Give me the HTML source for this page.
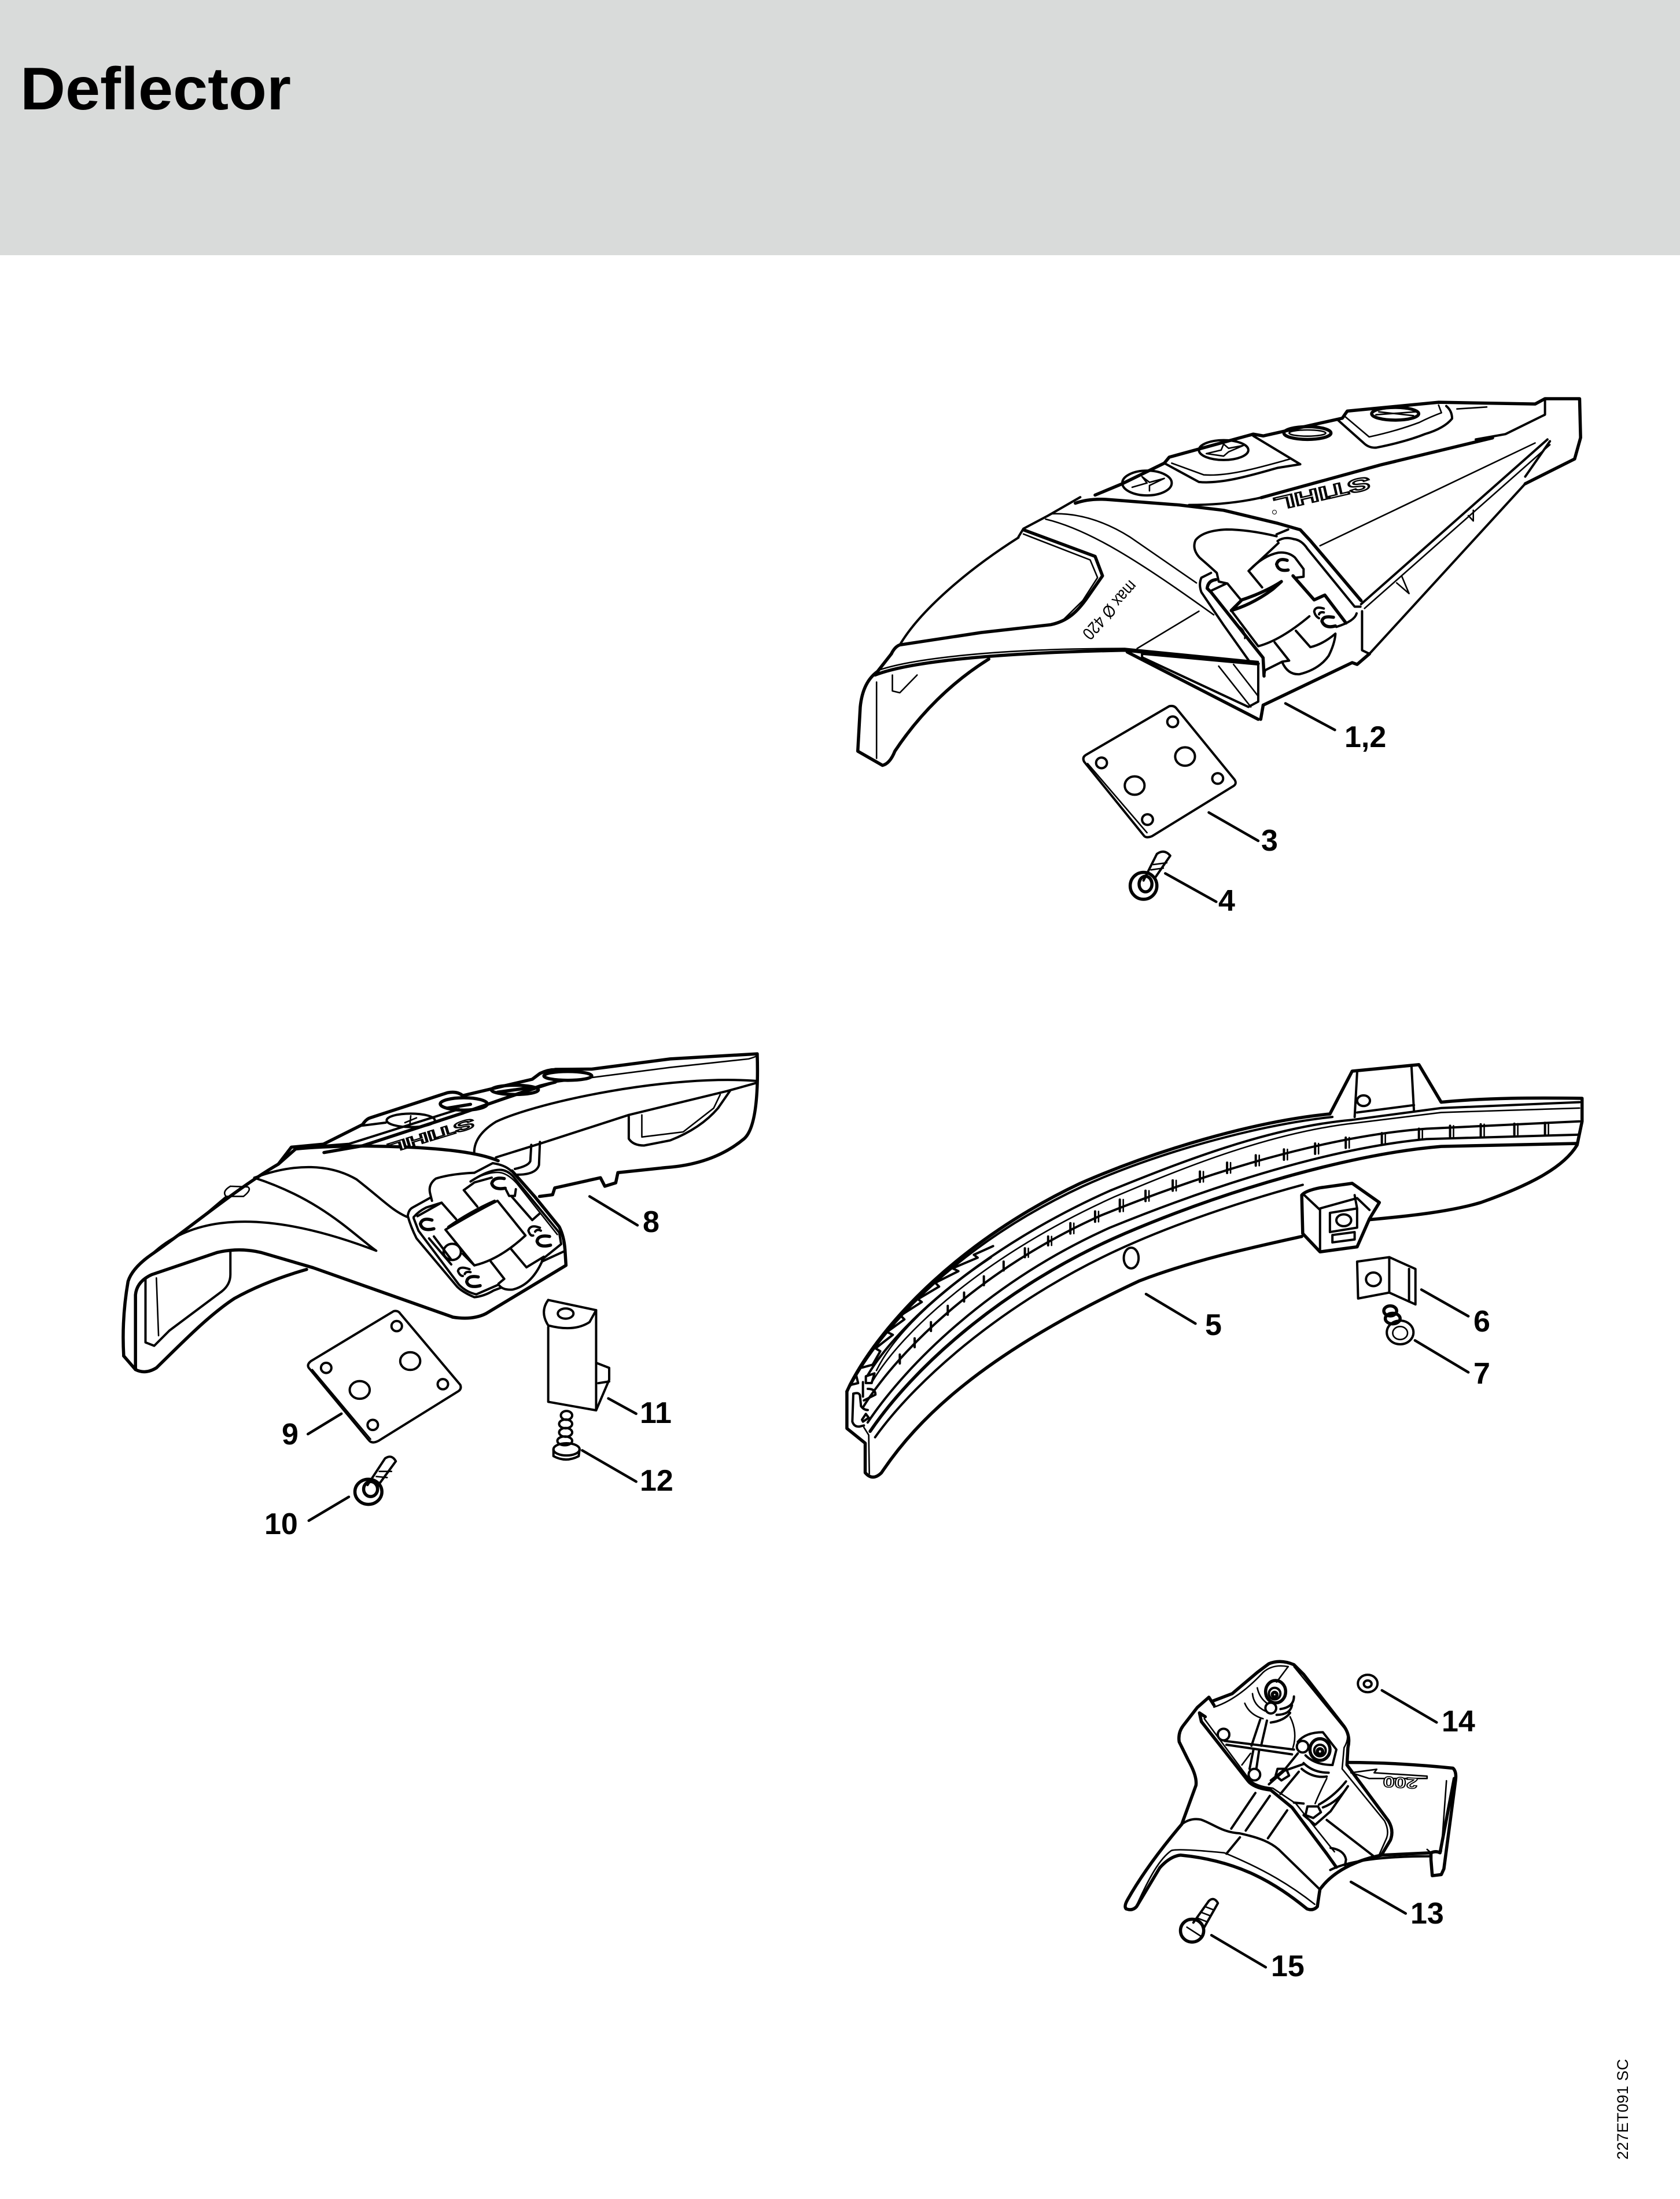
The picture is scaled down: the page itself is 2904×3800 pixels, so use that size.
<!DOCTYPE html>
<html><head><meta charset="utf-8"><title>Deflector</title>
<style>
html,body{margin:0;padding:0;background:#fff}
svg{display:block}
path,ellipse,circle{fill:none;stroke:#000;vector-effect:non-scaling-stroke;stroke-linecap:round;stroke-linejoin:round}
.k{stroke-width:5.5}
.m{stroke-width:4}
.t{stroke-width:2.6}
.l{stroke-width:4.5}
.lb{font:bold 52px "Liberation Sans",sans-serif;fill:#000}
</style></head><body>
<svg width="2904" height="3800" viewBox="0 0 2904 3800" xmlns="http://www.w3.org/2000/svg">
<rect width="2904" height="3800" fill="#fff"/>
<rect width="2904" height="441" fill="#d9dbda"/>
<text x="35" y="189" font-family="Liberation Sans,sans-serif" font-weight="bold" font-size="104" textLength="468" lengthAdjust="spacingAndGlyphs">Deflector</text>

<!-- PART A -->
<g transform="translate(1440,640) scale(.8546,.6122)">
<path class="k" d="M118 800 Q125 780 135 775 L300 740 L440 718 C475 708 495 680 515 640 L545 580 L530 525 L385 450"/>
<path class="m" d="M135 775 C175 680 270 565 375 472"/>
<path class="t" d="M385 462 L520 535 L535 585 L505 650 L465 705"/>
<path class="m" d="M375 470 L385 447 L435 410 L500 358"/>
<path class="k" d="M490 375 Q520 360 560 365 L700 380 L790 395 L900 432 L945 450 L965 480 L1068 650"/>
<path class="t" d="M440 405 Q520 400 600 470 L735 600"/>
<path class="t" d="M430 420 C520 450 620 540 770 690"/>
<path class="k" d="M530 352 L585 320 L670 262 L680 245 L850 180 L870 185 L1030 135 L1040 115 L1225 90 L1420 95 L1440 80 L1510 80 L1512 190 L1500 250 L1400 320"/>
<path class="m" d="M670 262 L740 315 C790 322 860 290 900 275 L945 265 L850 185"/>
<path class="t" d="M685 262 L750 295 C800 300 860 275 925 250"/>
<path class="m" d="M1440 80 L1440 125 L1360 180 L1300 195"/>
<ellipse class="m" cx="635" cy="318" rx="50" ry="35"/>
<path class="t" d="M605 330 L635 318 L625 300 L640 316 L670 305 L640 325 L640 340"/>
<ellipse class="m" cx="790" cy="225" rx="50" ry="28"/>
<path class="t" d="M755 235 L785 225 L790 208 L800 220 L830 212 L800 230 L790 242Z"/>
<path class="m" d="M720 380 Q800 380 866 359"/>
<path class="t" d="M985 495 L1420 205"/>
<path class="m" d="M1068 660 L1445 195"/>
<path class="t" d="M1075 672 L1450 210"/>
<path class="m" d="M1070 680 L1070 790 L1085 800 L1400 320"/>
<path class="m" d="M1450 200 L1400 300"/>
<path class="t" d="M1140 600 L1165 630 L1150 580 M1285 410 L1295 425 L1295 395"/>
<path class="k" d="M870 945 L1050 825 L1060 830 L1085 800"/>
<path class="k" d="M865 985 L870 945"/>
<path class="k" d="M595 795 L860 985"/>
<path class="m" d="M625 800 L860 830 L860 935 L840 950 L625 810Z"/>
<path class="t" d="M780 835 L845 950 M810 830 L860 920"/>
<path class="k" d="M85 860 C130 835 250 800 590 790 L860 828"/>
<path class="t" d="M95 845 C150 820 300 785 590 785 L860 822"/>
<path class="t" d="M120 860 L120 905 L135 910 L170 860"/>
<path class="k" d="M118 800 L90 850 Q60 880 55 950 L50 1075 L100 1115 Q115 1110 125 1075 C175 970 240 880 315 815"/>
<path class="t" d="M88 880 L88 1095"/>
<path class="t" d="M615 785 L740 680"/>
<!-- plate 3 -->
<path class="m" d="M680 948 Q690 945 695 955 L812 1155 Q818 1168 808 1175 L645 1315 Q632 1322 628 1312 L508 1105 Q503 1092 512 1085Z"/>
<path class="t" d="M515 1110 L635 1305"/>
<ellipse class="m" cx="687" cy="992" rx="11" ry="15"/>
<ellipse class="m" cx="712" cy="1090" rx="20" ry="26"/>
<ellipse class="m" cx="610" cy="1172" rx="20" ry="26"/>
<ellipse class="m" cx="543" cy="1108" rx="11" ry="15"/>
<ellipse class="m" cx="778" cy="1152" rx="11" ry="15"/>
<ellipse class="m" cx="636" cy="1268" rx="11" ry="15"/>
<!-- screw 4 -->
<ellipse class="k" cx="628" cy="1455" rx="27" ry="38"/>
<ellipse class="k" cx="632" cy="1450" rx="13" ry="22"/>
<path class="m" d="M628 1440 L655 1365 Q670 1350 682 1370 L650 1435"/>
<path class="t" d="M648 1395 L675 1390 M643 1410 L668 1405"/>
<path class="l" d="M915 940 L1015 1015 M760 1248 L860 1328 M672 1420 L775 1500"/>
</g>
<!-- A top detail -->
<g transform="translate(2180,660) scale(.33333)">
<path class="m" d="M395 195 L530 315 Q560 345 600 340 Q750 310 850 270 Q950 240 990 190 Q990 150 960 125"/>
<path class="t" d="M430 175 L560 285 Q700 255 820 210 Q880 180 935 160 L920 120"/>
<ellipse class="k" cx="240" cy="265" rx="122" ry="33"/>
<ellipse class="t" cx="240" cy="265" rx="95" ry="16"/>
<ellipse class="k" cx="695" cy="165" rx="122" ry="33"/>
<path class="t" d="M595 170 L800 155 M610 155 L790 175"/>
<path class="k" d="M0 600 L620 430 L1200 290"/>
<path class="t" d="M1015 140 L1170 130"/>
</g>
<text transform="translate(2366,823) rotate(167)" font-family="Liberation Sans,sans-serif" font-weight="bold" font-size="32" fill="#fff" stroke="#000" stroke-width="2.4" textLength="170" lengthAdjust="spacingAndGlyphs">STIHL</text>
<circle cx="2203" cy="885" r="3.5" fill="#000"/>
<text transform="translate(1953,1001) rotate(132)" font-family="Liberation Sans,sans-serif" font-size="30" fill="#000" textLength="125" lengthAdjust="spacingAndGlyphs">max Ø 420</text>
<!-- A hinge -->
<g transform="translate(2040,880) scale(.33333)">
<path class="m" d="M500 140 Q350 105 240 105 Q120 110 80 160 Q60 205 100 250 L140 285 L190 330 L200 375 L245 385 L315 470"/>
<path class="m" d="M160 330 L110 355 Q95 390 110 430 L225 600 L360 790"/>
<path class="k" d="M185 365 Q145 370 140 410 L160 430 L430 770 L435 865"/>
<path class="m" d="M155 425 L240 385"/>
<path class="t" d="M290 600 Q340 620 335 670"/>
<path class="m" d="M505 165 Q540 140 590 155 Q630 160 660 205 L905 505 L935 505"/>
<path class="m" d="M500 130 L560 105"/>
<path class="m" d="M510 175 L355 320 L425 405"/>
<path class="m" d="M355 320 Q430 240 510 225 Q560 220 595 250 L640 310 L640 350 L600 355"/>
<path class="k" d="M585 345 L695 470 L750 445 L860 590"/>
<path class="k" d="M525 375 Q440 430 320 470 L265 525 Q380 490 480 415 Z"/>
<path class="m" d="M265 525 L405 710 Q520 680 670 555"/>
<path class="m" d="M810 610 Q905 580 915 540"/>
<path class="m" d="M490 690 L565 785 L530 790 L440 835 L435 865"/>
<path class="m" d="M600 630 L675 715 Q740 700 805 645"/>
<path class="m" d="M530 795 Q560 860 620 855 Q720 830 770 760 Q800 700 805 650"/>
<path class="k" d="M555 265 Q510 250 500 285 Q510 325 560 315"/>
<path class="k" d="M795 560 Q740 550 735 580 Q750 620 805 605"/>
<path class="m" d="M745 515 Q700 500 695 530 Q700 555 720 565 M745 535 Q725 530 720 545"/>
</g>

<!-- PART B -->
<g transform="translate(180,1780) scale(.7526,.5867)">
<path class="k" d="M45 960 Q40 850 55 740 Q65 700 110 660 C190 590 300 470 400 395 L440 350 C520 340 620 340 700 345 C780 350 860 360 905 385"/>
<path class="k" d="M800 845 L480 700 L360 655 Q310 640 260 655 L110 720 Q75 740 72 780 L72 1000"/>
<path class="k" d="M45 960 L72 1000 Q95 1015 120 995 C180 920 240 840 300 790 Q370 740 465 705"/>
<path class="m" d="M95 735 L95 920 L115 930 L150 885 L270 770 Q290 750 290 720 L290 650"/>
<path class="t" d="M120 730 L125 900"/>
<path class="k" d="M400 395 L430 345 L505 336"/>
<path class="k" d="M1036 116 L1120 115 L1300 85 L1500 70"/>
<path class="k" d="M1500 70 Q1505 280 1470 320 Q1400 395 1290 405 L1180 420 L1175 450 L1150 460 L1140 435 L1035 465 L1030 485 L1000 490"/>
<path class="m" d="M850 360 Q850 310 900 270 C1000 210 1300 130 1500 150"/>
<path class="m" d="M900 375 L1000 335 L1205 250 L1430 180 L1500 155"/>
<path class="t" d="M827 243 L1040 153 L1300 110 L1480 85 Q1495 80 1500 75"/>
<path class="m" d="M1205 255 L1205 320 Q1215 340 1240 340 L1300 325 Q1370 290 1410 230 L1437 180"/>
<path class="t" d="M1235 250 L1235 315 L1330 300 L1400 230 L1415 190"/>
<ellipse class="k" cx="1065" cy="135" rx="55" ry="13"/>
<path class="t" d="M290 460 L330 462 Q340 470 320 490 L280 490 Q270 475 290 460 M280 490 L220 555"/>
<path class="m" d="M345 435 C440 390 520 395 580 440 C640 500 660 530 695 550"/>
<path class="m" d="M110 660 C200 550 360 520 625 650 C570 600 500 500 345 435"/>
<!-- plate 9 -->
<path class="m" d="M665 828 Q675 825 680 835 L818 1045 Q822 1058 812 1065 L630 1210 Q615 1220 608 1208 L470 995 Q465 985 475 975Z"/>
<path class="t" d="M478 1000 L612 1205"/>
<ellipse class="m" cx="672" cy="872" rx="12" ry="15"/>
<ellipse class="m" cx="703" cy="975" rx="23" ry="26"/>
<ellipse class="m" cx="587" cy="1060" rx="23" ry="26"/>
<ellipse class="m" cx="510" cy="995" rx="12" ry="15"/>
<ellipse class="m" cx="778" cy="1043" rx="12" ry="15"/>
<ellipse class="m" cx="617" cy="1163" rx="12" ry="15"/>
<!-- screw 10 -->
<ellipse class="k" cx="607" cy="1360" rx="31" ry="37"/>
<ellipse class="k" cx="612" cy="1352" rx="16" ry="22"/>
<path class="m" d="M605 1340 L645 1262 Q660 1248 670 1270 L630 1340"/>
<path class="t" d="M632 1300 L660 1300 M625 1315 L650 1318"/>
<!-- bracket 11 -->
<path class="m" d="M1020 795 L1130 825 L1130 1120 L1020 1095 L1020 875"/>
<path class="m" d="M1020 795 Q1000 830 1020 870 Q1080 890 1115 860 L1130 825"/>
<ellipse class="m" cx="1060" cy="835" rx="18" ry="15"/>
<path class="m" d="M1130 980 L1160 995 L1160 1030 L1130 1120 M1135 1040 L1160 1035"/>
<!-- screw 12 -->
<ellipse class="m" cx="1062" cy="1135" rx="13" ry="13"/>
<ellipse class="m" cx="1060" cy="1160" rx="15" ry="13"/>
<ellipse class="m" cx="1060" cy="1185" rx="15" ry="13"/>
<ellipse class="m" cx="1058" cy="1210" rx="17" ry="13"/>
<ellipse class="m" cx="1062" cy="1235" rx="30" ry="18"/>
<path class="m" d="M1032 1235 L1032 1255 Q1060 1275 1090 1255 L1092 1235"/>
<path class="l" d="M1115 490 L1225 575 M468 1190 L545 1130 M470 1445 L562 1375 M1158 1085 L1222 1130 M1098 1238 L1222 1330"/>
</g>
<!-- B top detail -->
<g transform="translate(560,1800) scale(.33333)">
<path class="k" d="M0 530 L200 430 Q220 400 240 395 L640 265 Q690 255 720 280 L1080 195 L1120 165 Q1160 145 1200 145"/>
<path class="m" d="M200 435 L320 420"/>
<ellipse class="m" cx="450" cy="408" rx="125" ry="35"/>
<path class="t" d="M420 420 L480 395 M450 385 L445 435"/>
<ellipse class="k" cx="725" cy="323" rx="122" ry="32"/>
<ellipse class="k" cx="990" cy="250" rx="122" ry="24"/>
<path class="k" d="M640 345 L760 325 M900 262 L1060 240"/>
<path class="m" d="M0 540 L130 530 L700 350"/>
<path class="k" d="M0 575 L200 540 L720 370"/>
<path class="k" d="M720 370 L1120 230 L1200 210"/>
<path class="m" d="M1075 535 L1070 620 Q1060 645 990 660"/>
<path class="m" d="M1120 520 L1115 640 Q1100 690 1000 690"/>
</g>
<text transform="translate(817,1932) rotate(163)" font-family="Liberation Sans,sans-serif" font-weight="bold" font-size="24" fill="#fff" stroke="#000" stroke-width="2.2" textLength="155" lengthAdjust="spacingAndGlyphs">STIHL</text>
<!-- B hinge -->
<g transform="translate(680,1980) scale(.33333)">
<path class="k" d="M615 130 L730 260 L860 420 Q885 470 890 540 L895 620 L480 870 Q410 905 306 888"/>
<path class="m" d="M420 140 L515 90 Q580 100 610 130"/>
<path class="m" d="M75 360 Q80 330 100 320 L190 270"/>
<path class="m" d="M75 365 Q90 420 120 480 L330 730 Q360 760 420 785 Q470 780 520 750 L560 735"/>
<path class="m" d="M890 545 L770 600"/>
<path class="m" d="M105 370 Q130 340 170 320 L250 295 M105 375 L130 440 L340 720 Q380 760 430 770 L545 720"/>
<path class="m" d="M400 185 Q500 120 560 125 Q600 130 630 170 L860 450 L870 510 L770 590"/>
<path class="t" d="M420 170 Q510 130 560 140 Q600 150 640 195 L850 460"/>
<path class="m" d="M510 165 L420 190 L365 230 L435 315"/>
<path class="m" d="M585 230 L600 260 L630 260 L635 225"/>
<path class="m" d="M615 265 L720 385 L760 350"/>
<path class="m" d="M270 435 L420 620 Q550 590 685 465 L540 285 Q430 340 270 435Z"/>
<path class="m" d="M285 420 Q400 340 525 285"/>
<path class="m" d="M610 535 L690 630 L780 575"/>
<path class="m" d="M505 600 L575 690 L545 715"/>
<path class="m" d="M125 365 L250 295 L325 380"/>
<path class="m" d="M210 470 L300 590 M185 480 L300 615 M360 560 L420 620"/>
<ellipse class="m" cx="305" cy="550" rx="45" ry="42"/>
<path class="k" d="M200 385 Q150 370 140 405 Q150 445 210 430"/>
<path class="k" d="M575 170 Q520 160 510 195 Q520 230 580 220"/>
<path class="k" d="M810 470 Q750 460 745 495 Q755 530 815 515"/>
<path class="k" d="M440 680 Q385 670 380 705 Q390 740 450 725"/>
<path class="m" d="M760 425 Q710 405 700 440 Q710 470 725 465 M765 440 Q745 430 735 445"/>
<path class="m" d="M395 640 Q340 620 335 650 Q345 675 360 675 M400 655 Q375 650 370 665"/>
<path class="m" d="M420 140 Q300 145 220 170 Q180 200 190 245 L200 285"/>
<path class="m" d="M775 590 Q720 720 620 745 Q570 750 550 725"/>
</g>

<!-- PART C -->
<g transform="translate(1440,1800) scale(.8546,.5102)">
<path class="k" d="M28 1185 L35 1160 C100 950 260 670 500 480 C650 370 850 270 1005 245 L1050 100 L1185 78 L1230 205 C1320 190 1420 190 1515 192 L1515 270 L1505 350 C1480 420 1420 480 1310 545 C1250 575 1170 590 1085 603"/>
<path class="k" d="M28 1185 L28 1310 L65 1360 L65 1460 Q80 1490 98 1460 C170 1280 300 1060 620 810 C730 740 840 700 948 660"/>
<path class="m" d="M35 1165 C100 960 260 680 505 490 C650 380 850 285 1010 255"/>
<path class="m" d="M70 1130 C130 960 300 700 560 505 C700 410 880 290 1050 265 L1230 225 L1510 205"/>
<path class="t" d="M80 1150 C140 980 310 720 570 525 C710 425 890 305 1060 275 L1230 240 L1510 225"/>
<path class="m" d="M60 1240 C130 1050 300 770 540 590 C760 440 1000 320 1200 295 L1510 270"/>
<path class="m" d="M70 1290 C150 1090 320 810 560 630 C780 480 1010 360 1200 330 L1510 315"/>
<path class="k" d="M75 1320 C160 1110 340 830 590 650 C800 500 1050 380 1230 355 L1505 345"/>
<path class="m" d="M85 1340 C170 1140 360 860 610 680 C720 600 850 530 950 485"/>
<path class="m" d="M1440 275V315M1378 278V315M1310 280V320M1248 285V322M1185 295V330M1110 310V345M1037 325V360M975 345V380M912 365V400M855 385V420M797 410V445M742 440V475M687 470V505M632 505V540M580 535V575M530 575V610M480 615V650M435 660V690M388 700V730M345 745V775M305 795V825M265 850V880M232 895V925M198 950V980M165 1005V1035M135 1060V1090"/>
<path class="t" d="M1447 275V315M1385 278V315M1317 280V320M1255 285V322M1192 295V330M1117 310V345M1044 325V360M982 345V380M919 365V400M862 385V420M804 410V445M749 440V475M694 470V505M639 505V540M587 535V575M537 575V610M487 615V650M442 660V690M395 700V730"/>
<path class="m" d="M1060 105 L1055 255 M1170 85 L1175 235 M1060 240 L1175 215"/>
<ellipse class="m" cx="1073" cy="200" rx="13" ry="18"/>
<!-- block -->
<path class="k" d="M948 520 Q955 505 985 495 L1050 480 L1105 545 L1085 600 L1060 695 L985 712 L950 650 Z"/>
<path class="m" d="M950 515 L985 570 L985 705 M985 565 L1060 530 L1085 570"/>
<path class="m" d="M1055 520 L1060 565 M1005 580 L1060 565 L1060 630 L1005 645Z"/>
<ellipse class="m" cx="1033" cy="605" rx="15" ry="20"/>
<path class="m" d="M1010 655 L1055 645 L1055 670 L1010 680Z"/>
<ellipse class="m" cx="603" cy="733" rx="15" ry="35"/>
<!-- bracket 6 -->
<path class="m" d="M1060 745 L1125 730 L1178 770 L1178 890 L1125 850 L1062 870 Z"/>
<path class="m" d="M1125 730 L1125 850 M1165 770 L1165 880"/>
<ellipse class="m" cx="1093" cy="805" rx="15" ry="23"/>
<!-- screw 7 -->
<ellipse class="k" cx="1127" cy="912" rx="13" ry="17"/>
<ellipse class="k" cx="1132" cy="938" rx="15" ry="18"/>
<ellipse class="m" cx="1147" cy="985" rx="27" ry="40"/>
<ellipse class="t" cx="1147" cy="987" rx="15" ry="22"/>
<path class="l" d="M633 855 L733 955 M1190 840 L1285 930 M1177 1012 L1285 1120"/>
</g>
<!-- C tip -->
<g transform="translate(1450,2160) scale(.33333)">
<path class="m" d="M120 610 L175 595 L215 525 L190 510 L280 440 L250 425 L340 360 L320 340 L430 270 L410 255 L520 190 L500 170 L620 110 L590 95 L720 40 L700 25 L800 -20"/>
<path class="t" d="M195 625 C260 490 400 340 560 210 C620 160 700 100 790 40"/>
<path class="m" d="M75 745 L70 890 Q80 920 110 915 L130 910 M75 745 Q110 735 110 760 L115 810 Q130 830 150 830"/>
<path class="m" d="M125 685 L125 760 M140 655 L185 640 L170 690 L140 690 Z"/>
<path class="m" d="M150 720 Q190 720 190 750 L130 780"/>
<path class="m" d="M125 890 L155 870 L140 850 L120 880 Z"/>
<path class="t" d="M130 920 L155 960 L158 1160"/>
<path class="m" d="M60 700 L100 690 L90 650"/>
</g>

<!-- PART D -->
<g transform="translate(1920,2840) scale(.4464,.3954)">
<path class="k" d="M60 1160 Q50 1150 65 1120 C120 1010 200 890 275 790 L330 620 Q335 580 300 510 L265 430 Q260 390 280 360 L335 280 L380 235 L400 270"/>
<path class="k" d="M1050 925 L1240 915"/>
<path class="k" d="M920 520 C1050 520 1200 530 1325 545 Q1340 560 1335 600 L1290 985 L1280 1010 L1245 1015 L1240 945 L1240 915 Q1260 905 1275 915 L1330 590"/>
<path class="k" d="M1050 925 C980 940 870 980 810 1075 Q805 1110 800 1150 Q785 1170 760 1160 C640 1050 500 950 270 925 Q230 930 190 980 L100 1150 Q85 1170 60 1160"/>
<path class="t" d="M100 1145 C150 1020 190 940 235 905 Q260 895 440 915 C600 990 700 1060 790 1140"/>
<path class="m" d="M275 790 Q310 760 350 770 C400 790 430 825 500 830 C580 850 620 870 650 900 L805 1070"/>
<path class="m" d="M850 990 C920 950 1050 930 1240 930"/>
<path class="t" d="M930 565 L1030 550 L1020 565 L1225 580 L1225 590 L1000 590 Z"/>
<path class="t" d="M1225 900 L1240 915 M1300 600 L1280 910"/>
<ellipse class="m" cx="995" cy="175" rx="38" ry="38"/>
<ellipse class="m" cx="995" cy="177" rx="15" ry="15"/>
<ellipse class="k" cx="315" cy="1255" rx="45" ry="50"/>
<path class="m" d="M320 1220 L380 1125 Q400 1105 415 1135 L360 1245"/>
<path class="t" d="M365 1150 L400 1165 M350 1175 L385 1190 M335 1200 L370 1215 M295 1240 L350 1280"/>
<path class="l" d="M1050 205 L1262 345 M930 1042 L1142 1180 M390 1275 L600 1415"/>
</g>
<!-- D interior -->
<g transform="translate(2040,2860) scale(.33333)">
<path class="k" d="M165 240 L270 200 L400 90 L460 45 Q520 20 590 50 L640 100 L850 370 Q885 420 870 480 L865 570 L1080 860 Q1110 910 1090 960 L1045 1035"/>
<path class="t" d="M175 270 Q300 230 430 90 Q480 45 560 60"/>
<path class="k" d="M130 320 L100 300 L110 345 L350 650 Q380 690 470 700 L580 790 L760 1030 L810 1100"/>
<path class="t" d="M125 330 L355 640 Q385 680 480 690 L600 770 L800 1020"/>
<path class="t" d="M560 60 L500 140"/>
<path class="t" d="M590 60 L860 390 Q880 430 850 480 L840 590 L1060 860 Q1085 910 1070 950 L1030 1040"/>
<ellipse class="k" cx="495" cy="190" rx="52" ry="58"/>
<ellipse class="m" cx="490" cy="200" rx="30" ry="30"/>
<ellipse class="k" cx="490" cy="205" rx="12" ry="12"/>
<path class="t" d="M335 250 Q360 310 430 330 M375 200 Q380 260 440 290 M400 170 Q410 220 450 250"/>
<path class="m" d="M590 215 Q590 270 520 280 M580 260 Q570 310 500 310 M570 300 Q540 340 470 350"/>
<path class="t" d="M570 320 Q610 400 585 480"/>
<circle class="m" cx="225" cy="412" r="30"/>
<circle class="m" cx="470" cy="275" r="28"/>
<circle class="m" cx="635" cy="475" r="30"/>
<circle class="m" cx="385" cy="620" r="30"/>
<path class="m" d="M230 445 L590 490 M240 465 L580 515 M415 335 L370 470 M450 340 L420 470 M380 490 L360 590 M410 490 L395 590"/>
<path class="t" d="M365 510 L320 570"/>
<ellipse class="k" cx="725" cy="490" rx="52" ry="56"/>
<ellipse class="m" cx="725" cy="495" rx="30" ry="30"/>
<ellipse class="k" cx="725" cy="500" rx="14" ry="14"/>
<path class="m" d="M610 450 Q650 400 740 400 L810 490 L790 570"/>
<path class="m" d="M650 520 Q700 570 790 570 M640 560 Q690 610 770 610 M630 590 Q690 640 760 630"/>
<path class="t" d="M760 640 Q720 720 700 770"/>
<path class="m" d="M610 510 L545 590 L470 650 M640 565 L540 600 L460 670"/>
<path class="m" d="M505 590 L550 590 L565 625 L525 650 L495 625Z"/>
<path class="m" d="M615 605 L520 720"/>
<path class="m" d="M660 785 L715 785 L730 815 L690 845 L650 830Z"/>
<path class="m" d="M590 765 L640 770 M720 775 Q800 730 860 655 M740 790 Q820 760 870 680 L780 810 L700 880 L640 830"/>
<path class="m" d="M390 715 L265 900 M465 730 L340 910 M310 945 L240 1030 M555 805 L455 950"/>
<path class="m" d="M760 855 L1000 1040"/>
<path class="m" d="M780 1000 Q850 1010 860 1060 L855 1090"/>
</g>
<text transform="translate(2451,3073) rotate(183)" font-family="Liberation Sans,sans-serif" font-weight="bold" font-size="26" fill="#fff" stroke="#000" stroke-width="1.6" textLength="60" lengthAdjust="spacingAndGlyphs">200</text>

<!-- Labels -->
<text class="lb" x="2324" y="1291">1,2</text>
<text class="lb" x="2180" y="1470">3</text>
<text class="lb" x="2106" y="1574">4</text>
<text class="lb" x="2083" y="2307">5</text>
<text class="lb" x="2547" y="2301">6</text>
<text class="lb" x="2547" y="2391">7</text>
<text class="lb" x="1111" y="2129">8</text>
<text class="lb" x="487" y="2496">9</text>
<text class="lb" x="457" y="2651">10</text>
<text class="lb" x="1106" y="2459">11</text>
<text class="lb" x="1106" y="2576">12</text>
<text class="lb" x="2438" y="3324">13</text>
<text class="lb" x="2492" y="2992">14</text>
<text class="lb" x="2197" y="3415">15</text>
<text transform="translate(2814,3732) rotate(-90)" font-family="Liberation Sans,sans-serif" font-size="27" fill="#000" textLength="174">227ET091 SC</text>
</svg>
</body></html>
